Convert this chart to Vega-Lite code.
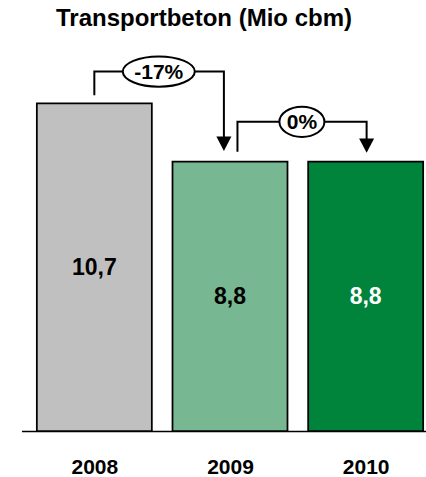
{
  "$schema": "https://vega.github.io/schema/vega-lite/v6.json",
  "width": 417,
  "height": 398,
  "autosize": {"type": "none"},
  "padding": {"left": 21.5, "top": 33, "right": 0, "bottom": 46},
  "title": {
    "text": "Transportbeton (Mio cbm)",
    "font": "Liberation Sans",
    "fontSize": 24,
    "fontWeight": "bold",
    "color": "#000000",
    "anchor": "middle",
    "frame": "group",
    "dx": -26,
    "offset": 2
  },
  "config": {
    "view": {"stroke": null},
    "axisX": {
      "labelFont": "Liberation Sans",
      "labelFontSize": 21,
      "labelFontWeight": "bold",
      "labelColor": "#000000",
      "labelPadding": 25,
      "ticks": false,
      "grid": false,
      "domainColor": "#000000",
      "domainWidth": 1.5,
      "labelFlush": false,
      "labelOverlap": false
    }
  },
  "datasets": {
    "bars": [
      {"year": 2008, "value": 10.7, "label": "10,7"},
      {"year": 2009, "value": 8.8, "label": "8,8"},
      {"year": 2010, "value": 8.8, "label": "8,8"}
    ],
    "brackets": [
      {"bracket": "A", "step": 1, "x": 2008.0, "y": 10.97},
      {"bracket": "A", "step": 2, "x": 2008.0, "y": 11.74},
      {"bracket": "A", "step": 3, "x": 2008.955, "y": 11.74},
      {"bracket": "A", "step": 4, "x": 2008.955, "y": 9.5},
      {"bracket": "B", "step": 1, "x": 2009.055, "y": 9.12},
      {"bracket": "B", "step": 2, "x": 2009.055, "y": 10.1},
      {"bracket": "B", "step": 3, "x": 2010.007, "y": 10.1},
      {"bracket": "B", "step": 4, "x": 2010.007, "y": 9.45}
    ],
    "arrows": [
      {"x": 2008.955, "y": 9.39},
      {"x": 2010.007, "y": 9.33}
    ],
    "changes": [
      {"x": 2008.475, "y": 11.74, "label": "-17%", "kind": "wide"},
      {"x": 2009.53, "y": 10.1, "label": "0%", "kind": "narrow"}
    ]
  },
  "layer": [
    {
      "data": {"name": "bars"},
      "mark": {"type": "bar", "width": 115, "stroke": "#000000", "strokeWidth": 1.75},
      "encoding": {
        "x": {
          "field": "year",
          "type": "quantitative",
          "title": null,
          "scale": {"domain": [2007.5, 2010.5], "nice": false, "zero": false},
          "axis": {"values": [2008, 2009, 2010], "format": "d"}
        },
        "y": {
          "field": "value",
          "type": "quantitative",
          "title": null,
          "scale": {"domain": [0, 13], "nice": false},
          "axis": null
        },
        "color": {
          "field": "year",
          "type": "nominal",
          "scale": {"domain": [2008, 2009, 2010], "range": ["#c0c0c0", "#77b791", "#00833a"]},
          "legend": null
        }
      }
    },
    {
      "data": {"name": "brackets"},
      "mark": {"type": "line", "stroke": "#000000", "strokeWidth": 2, "strokeJoin": "miter", "strokeCap": "butt"},
      "encoding": {
        "x": {"field": "x", "type": "quantitative", "title": null},
        "y": {"field": "y", "type": "quantitative", "title": null},
        "detail": {"field": "bracket"},
        "order": {"field": "step", "type": "quantitative"}
      }
    },
    {
      "data": {"name": "arrows"},
      "mark": {"type": "point", "shape": "M-1,-0.93L1,-0.93L0,1Z", "size": 225, "filled": true, "fill": "#000000", "strokeWidth": 0, "opacity": 1},
      "encoding": {
        "x": {"field": "x", "type": "quantitative", "title": null},
        "y": {"field": "y", "type": "quantitative", "title": null}
      }
    },
    {
      "data": {"name": "changes"},
      "mark": {"type": "point", "size": 5184, "filled": true, "fill": "#ffffff", "stroke": "#000000", "strokeWidth": 2, "opacity": 1},
      "encoding": {
        "x": {"field": "x", "type": "quantitative", "title": null},
        "y": {"field": "y", "type": "quantitative", "title": null},
        "shape": {
          "field": "kind",
          "type": "nominal",
          "scale": {
            "domain": ["wide", "narrow"],
            "range": [
              "M-1,0C-1,-0.232,-0.552,-0.42,0,-0.42C0.552,-0.42,1,-0.232,1,0C1,0.232,0.552,0.42,0,0.42C-0.552,0.42,-1,0.232,-1,0Z",
              "M-0.625,0C-0.625,-0.232,-0.345,-0.42,0,-0.42C0.345,-0.42,0.625,-0.232,0.625,0C0.625,0.232,0.345,0.42,0,0.42C-0.345,0.42,-0.625,0.232,-0.625,0Z"
            ]
          },
          "legend": null
        }
      }
    },
    {
      "data": {"name": "changes"},
      "mark": {"type": "text", "font": "Liberation Sans", "fontSize": 21, "fontWeight": "bold", "color": "#000000", "baseline": "middle", "align": "center", "dy": 1},
      "encoding": {
        "x": {"field": "x", "type": "quantitative", "title": null},
        "y": {"field": "y", "type": "quantitative", "title": null},
        "text": {"field": "label"}
      }
    },
    {
      "data": {"name": "bars"},
      "transform": [{"calculate": "datum.value / 2", "as": "mid"}],
      "mark": {"type": "text", "font": "Liberation Sans", "fontSize": 23, "fontWeight": "bold", "baseline": "middle", "align": "center", "dy": 1},
      "encoding": {
        "x": {"field": "year", "type": "quantitative", "title": null},
        "y": {"field": "mid", "type": "quantitative", "title": null},
        "text": {"field": "label"},
        "color": {
          "condition": {"test": "datum.year == 2010", "value": "#ffffff"},
          "value": "#000000"
        }
      }
    }
  ]
}
